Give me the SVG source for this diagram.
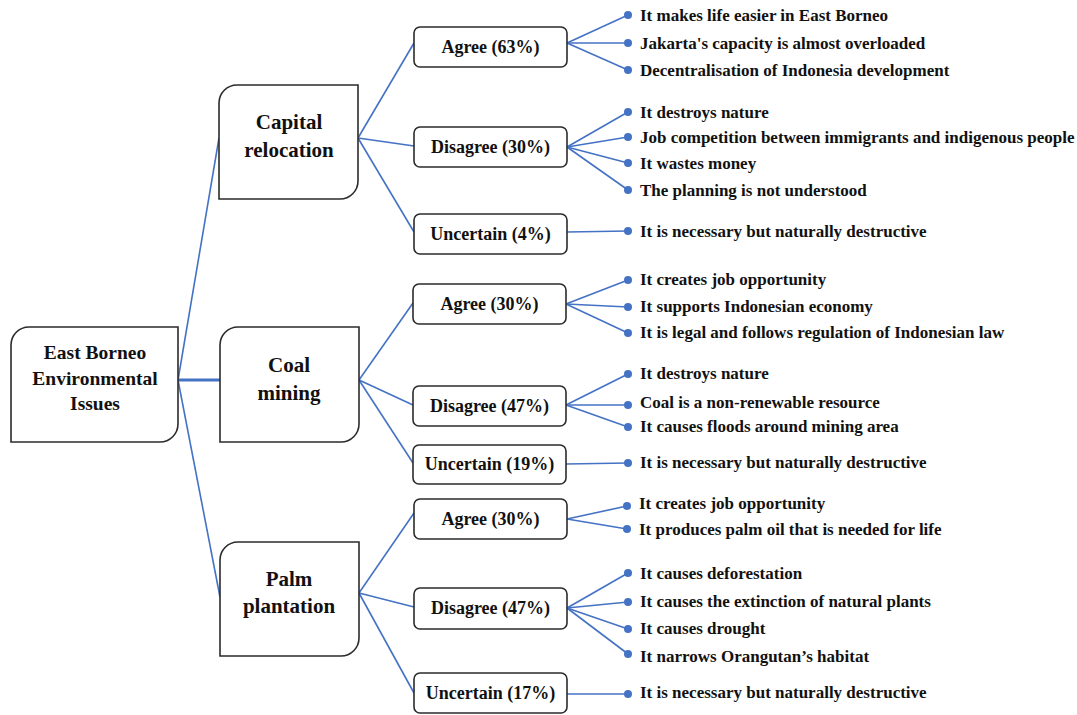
<svg xmlns="http://www.w3.org/2000/svg" width="1077" height="715" viewBox="0 0 1077 715">
<style>
.big{fill:#ffffff;stroke:#2b2b2b;stroke-width:1.6}
.small{fill:#ffffff;stroke:#2b2b2b;stroke-width:1.6}
.ln{stroke:#4472C4;stroke-width:1.6;fill:none}
.dot{fill:#4472C4}
.tb{font-family:'Liberation Serif',serif;font-weight:700;fill:#111111;font-size:21px;text-anchor:middle}
.tr{font-family:'Liberation Serif',serif;font-weight:700;fill:#111111;font-size:19.5px;text-anchor:middle}
.ts{font-family:'Liberation Serif',serif;font-weight:700;fill:#111111;font-size:18px;text-anchor:middle}
.ti{font-family:'Liberation Serif',serif;font-weight:700;fill:#111111;font-size:17px}
</style>
<rect x="0" y="0" width="1077" height="715" fill="#ffffff"/>
<g id="connectors">
<line class="ln" x1="178" y1="380" x2="219" y2="138"/>
<line class="ln" x1="178" y1="380" x2="220" y2="380" style="stroke-width:3"/>
<line class="ln" x1="178" y1="380" x2="220" y2="597"/>
<line class="ln" x1="358" y1="138" x2="414" y2="43"/>
<line class="ln" x1="358" y1="138" x2="414" y2="146"/>
<line class="ln" x1="358" y1="138" x2="414" y2="232"/>
<line class="ln" x1="359" y1="380" x2="413" y2="303"/>
<line class="ln" x1="359" y1="380" x2="413" y2="405"/>
<line class="ln" x1="359" y1="380" x2="413" y2="463"/>
<line class="ln" x1="359" y1="593" x2="414" y2="513"/>
<line class="ln" x1="359" y1="593" x2="414" y2="607"/>
<line class="ln" x1="359" y1="593" x2="414" y2="693"/>
<line class="ln" x1="567" y1="43" x2="628" y2="15"/>
<line class="ln" x1="567" y1="43" x2="628" y2="43"/>
<line class="ln" x1="567" y1="43" x2="628" y2="70"/>
<line class="ln" x1="567" y1="147" x2="628" y2="112"/>
<line class="ln" x1="567" y1="147" x2="628" y2="137"/>
<line class="ln" x1="567" y1="147" x2="628" y2="163"/>
<line class="ln" x1="567" y1="147" x2="628" y2="190"/>
<line class="ln" x1="567" y1="232" x2="628" y2="231"/>
<line class="ln" x1="566" y1="304" x2="628" y2="280"/>
<line class="ln" x1="566" y1="304" x2="628" y2="307"/>
<line class="ln" x1="566" y1="304" x2="628" y2="333"/>
<line class="ln" x1="566" y1="405" x2="628" y2="374"/>
<line class="ln" x1="566" y1="405" x2="628" y2="405"/>
<line class="ln" x1="566" y1="405" x2="628" y2="427"/>
<line class="ln" x1="566" y1="464" x2="628" y2="463"/>
<line class="ln" x1="567" y1="519" x2="627" y2="506"/>
<line class="ln" x1="567" y1="519" x2="627" y2="529"/>
<line class="ln" x1="567" y1="608" x2="628" y2="573"/>
<line class="ln" x1="567" y1="608" x2="628" y2="602"/>
<line class="ln" x1="567" y1="608" x2="628" y2="629"/>
<line class="ln" x1="567" y1="608" x2="628" y2="654"/>
<line class="ln" x1="567" y1="694" x2="628" y2="694"/>
</g>
<g id="root">
<path class="big" d="M11,345 A18,18 0 0 1 29,327 L178,327 L178,424 A18,18 0 0 1 160,442 L11,442 Z"/>
<text class="tr" x="95" y="359">East Borneo</text>
<text class="tr" x="95" y="385">Environmental</text>
<text class="tr" x="95" y="410">Issues</text>
</g>
<g id="capital">
<path class="big" d="M219,103 A18,18 0 0 1 237,85 L358,85 L358,181 A18,18 0 0 1 340,199 L219,199 Z"/>
<text class="tb" x="289" y="129">Capital</text>
<text class="tb" x="289" y="157">relocation</text>
</g>
<g id="coal">
<path class="big" d="M220,345 A18,18 0 0 1 238,327 L359,327 L359,424 A18,18 0 0 1 341,442 L220,442 Z"/>
<text class="tb" x="289" y="372">Coal</text>
<text class="tb" x="289" y="400">mining</text>
</g>
<g id="palm">
<path class="big" d="M220,560 A18,18 0 0 1 238,542 L359,542 L359,638 A18,18 0 0 1 341,656 L220,656 Z"/>
<text class="tb" x="289" y="586">Palm</text>
<text class="tb" x="289" y="613">plantation</text>
</g>
<g id="cap-agree"><rect class="small" x="414" y="27" width="153" height="40" rx="6"/><text class="ts" x="490.5" y="53">Agree (63%)</text></g>
<g id="cap-disagree"><rect class="small" x="414" y="127" width="153" height="40" rx="6"/><text class="ts" x="490.5" y="153">Disagree (30%)</text></g>
<g id="cap-uncertain"><rect class="small" x="414" y="214" width="153" height="40" rx="6"/><text class="ts" x="490.5" y="240">Uncertain (4%)</text></g>
<g id="coal-agree"><rect class="small" x="413" y="284" width="153" height="40" rx="6"/><text class="ts" x="489.5" y="310">Agree (30%)</text></g>
<g id="coal-disagree"><rect class="small" x="413" y="386" width="153" height="40" rx="6"/><text class="ts" x="489.5" y="412">Disagree (47%)</text></g>
<g id="coal-uncertain"><rect class="small" x="413" y="445" width="153" height="39" rx="6"/><text class="ts" x="489.5" y="470">Uncertain (19%)</text></g>
<g id="palm-agree"><rect class="small" x="414" y="499" width="153" height="40" rx="6"/><text class="ts" x="490.5" y="525">Agree (30%)</text></g>
<g id="palm-disagree"><rect class="small" x="414" y="588" width="153" height="41" rx="6"/><text class="ts" x="490.5" y="614">Disagree (47%)</text></g>
<g id="palm-uncertain"><rect class="small" x="414" y="673" width="153" height="40" rx="6"/><text class="ts" x="490.5" y="699">Uncertain (17%)</text></g>
<g id="items">
<circle class="dot" cx="628" cy="15" r="4"/><text class="ti" x="640" y="21">It makes life easier in East Borneo</text>
<circle class="dot" cx="628" cy="43" r="4"/><text class="ti" x="640" y="49">Jakarta's capacity is almost overloaded</text>
<circle class="dot" cx="628" cy="70" r="4"/><text class="ti" x="640" y="76">Decentralisation of Indonesia development</text>
<circle class="dot" cx="628" cy="112" r="4"/><text class="ti" x="640" y="118">It destroys nature</text>
<circle class="dot" cx="628" cy="137" r="4"/><text class="ti" x="640" y="143">Job competition between immigrants and indigenous people</text>
<circle class="dot" cx="628" cy="163" r="4"/><text class="ti" x="640" y="169">It wastes money</text>
<circle class="dot" cx="628" cy="190" r="4"/><text class="ti" x="640" y="196">The planning is not understood</text>
<circle class="dot" cx="628" cy="231" r="4"/><text class="ti" x="640" y="237">It is necessary but naturally destructive</text>
<circle class="dot" cx="628" cy="280" r="4"/><text class="ti" x="640" y="285">It creates job opportunity</text>
<circle class="dot" cx="628" cy="307" r="4"/><text class="ti" x="640" y="312">It supports Indonesian economy</text>
<circle class="dot" cx="628" cy="333" r="4"/><text class="ti" x="640" y="338">It is legal and follows regulation of Indonesian law</text>
<circle class="dot" cx="628" cy="374" r="4"/><text class="ti" x="640" y="379">It destroys nature</text>
<circle class="dot" cx="628" cy="405" r="4"/><text class="ti" x="640" y="408">Coal is a non-renewable resource</text>
<circle class="dot" cx="628" cy="427" r="4"/><text class="ti" x="640" y="432">It causes floods around mining area</text>
<circle class="dot" cx="628" cy="463" r="4"/><text class="ti" x="640" y="468">It is necessary but naturally destructive</text>
<circle class="dot" cx="627" cy="506" r="4"/><text class="ti" x="639" y="509">It creates job opportunity</text>
<circle class="dot" cx="627" cy="529" r="4"/><text class="ti" x="639" y="535">It produces palm oil that is needed for life</text>
<circle class="dot" cx="628" cy="573" r="4"/><text class="ti" x="640" y="579">It causes deforestation</text>
<circle class="dot" cx="628" cy="602" r="4"/><text class="ti" x="640" y="607">It causes the extinction of natural plants</text>
<circle class="dot" cx="628" cy="629" r="4"/><text class="ti" x="640" y="634">It causes drought</text>
<circle class="dot" cx="628" cy="654" r="4"/><text class="ti" x="640" y="662">It narrows Orangutan’s habitat</text>
<circle class="dot" cx="628" cy="694" r="4"/><text class="ti" x="640" y="698">It is necessary but naturally destructive</text>
</g>
</svg>
